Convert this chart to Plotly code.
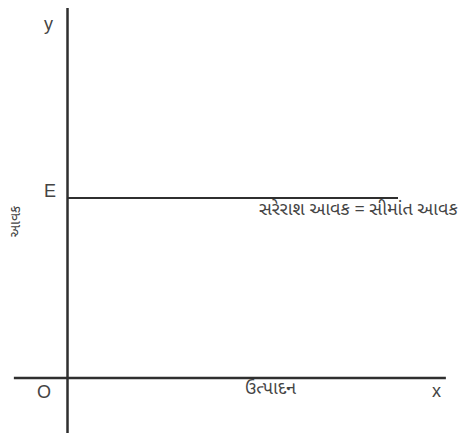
import plotly.graph_objects as go

# axis extents (origin O at 0,0)
x_axis_ends = [-1.49, 10.51]
y_axis_ends = [-1.53, 10.44]

# average revenue = marginal revenue line (horizontal at E)
ar_x = [0, 9.18]
ar_level = 5

# text labels
labels = ["y", "E", "O", "x", "ઉત્પાદન", "સરેરાશ આવક = સીમાંત આવક"]
label_x = [-0.54, -0.49, -0.65, 10.26, 5.65, 8.07]
label_y = [9.83, 5.19, -0.40, -0.36, -0.33, 4.67]
label_size = [18, 18, 18, 18, 18, 18]
y_title = "આવક"

line_col = "#2f2f2f"
txt_col = "#444444"
latin = "Liberation Sans, Arial, sans-serif"
guj = "Noto Sans Gujarati, Lohit Gujarati, Shruti, sans-serif"

fig = go.Figure()
fig.add_trace(go.Scatter(x=x_axis_ends, y=[0, 0], mode="lines",
                         line=dict(color=line_col, width=2.5), hoverinfo="skip"))
fig.add_trace(go.Scatter(x=[0, 0], y=y_axis_ends, mode="lines",
                         line=dict(color=line_col, width=2.5), hoverinfo="skip"))
fig.add_trace(go.Scatter(x=ar_x, y=[ar_level, ar_level], mode="lines",
                         line=dict(color=line_col, width=2), hoverinfo="skip"))

for i, t in enumerate(labels):
    is_guj = i >= 4
    fig.add_annotation(x=label_x[i], y=label_y[i], text=t, showarrow=False,
                       font=dict(family=guj if is_guj else latin,
                                 size=label_size[i], color=txt_col))

fig.add_annotation(x=-1.43, y=4.33, text=y_title, showarrow=False, textangle=-90,
                   font=dict(family=guj, size=14, color=txt_col))

# page body has an 8px margin, so the figure is sized to what remains
fig.update_layout(width=462, height=433, margin=dict(l=0, r=0, t=0, b=0),
                  plot_bgcolor="white", paper_bgcolor="white", showlegend=False,
                  xaxis=dict(range=[-1.653, 11.18], visible=False, fixedrange=True),
                  yaxis=dict(range=[-1.75, 10.278], visible=False, fixedrange=True))

fig.write_html("out.html")
